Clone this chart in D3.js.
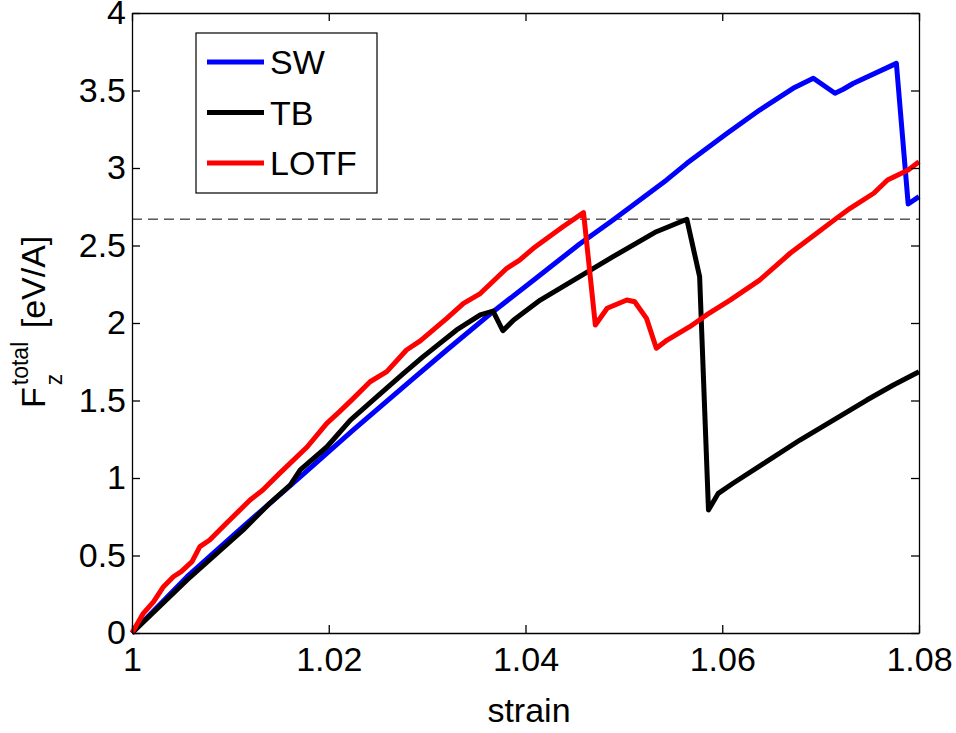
<!DOCTYPE html>
<html>
<head>
<meta charset="utf-8">
<script src="https://cdn.jsdelivr.net/npm/d3@7"></script>
<style>
  body { margin: 0; background: #fff; }
  text { font-family: "Liberation Sans", Arial, sans-serif; }
  .axis path, .axis line { stroke: #000; stroke-width: 1.3; }
  .axis text { font-size: 34px; fill: #000; }
</style>
</head>
<body>
<div class="chart"></div>
<script>
/*DATA : strain, total force*/
var seriesNames = ["SW", "TB", "LOTF"];
var seriesColors = ["#0000ff", "#000000", "#ff0000"];

var sw_strain = [1.0, 1.0056, 1.0113, 1.0171, 1.0225, 1.0284, 1.032, 1.0367, 1.0411, 1.0455, 1.0489, 1.05435, 1.0564, 1.0605, 1.0638, 1.0672, 1.06926, 1.07146, 1.0723, 1.0733, 1.0777, 1.0789, 1.08];
var sw_force  = [0, 0.363, 0.686, 1.008, 1.31, 1.632, 1.826, 2.073, 2.29, 2.51, 2.665, 2.923, 3.03, 3.224, 3.374, 3.514, 3.579, 3.482, 3.508, 3.545, 3.675, 2.768, 2.815];

var tb_strain = [1.0, 1.0056, 1.0113, 1.014, 1.0161, 1.0171, 1.0198, 1.0222, 1.0245, 1.0276, 1.0296, 1.033, 1.0354, 1.0367, 1.0377, 1.0388, 1.0415, 1.0455, 1.0489, 1.0533, 1.0564, 1.0577, 1.0586, 1.0596, 1.0611, 1.0645, 1.0679, 1.0713, 1.0747, 1.0774, 1.08];
var tb_force  = [0, 0.342, 0.665, 0.837, 0.955, 1.052, 1.2, 1.374, 1.503, 1.675, 1.783, 1.955, 2.052, 2.077, 1.95, 2.02, 2.148, 2.299, 2.428, 2.589, 2.669, 2.299, 0.794, 0.901, 0.966, 1.105, 1.245, 1.374, 1.503, 1.6, 1.686];

var lotf_strain = [1.0, 1.00115, 1.0022, 1.0032, 1.0042, 1.005, 1.0061, 1.0069, 1.0079, 1.0096, 1.012, 1.0133, 1.015, 1.0178, 1.0198, 1.0211, 1.0225, 1.0242, 1.0259, 1.0279, 1.0293, 1.032, 1.0337, 1.0354, 1.0381, 1.0394, 1.0408, 1.0438, 1.0459, 1.0471, 1.0483, 1.0503, 1.0511, 1.0523, 1.0533, 1.0544, 1.0567, 1.0584, 1.0608, 1.0638, 1.0669, 1.0696, 1.0716, 1.073, 1.0754, 1.0768, 1.0789, 1.08];
var lotf_force  = [0, 0.127, 0.202, 0.299, 0.363, 0.396, 0.46, 0.557, 0.6, 0.708, 0.858, 0.923, 1.03, 1.2, 1.353, 1.428, 1.514, 1.621, 1.686, 1.826, 1.885, 2.03, 2.127, 2.19, 2.353, 2.406, 2.482, 2.621, 2.712, 1.987, 2.095, 2.148, 2.137, 2.03, 1.837, 1.89, 1.976, 2.052, 2.148, 2.277, 2.45, 2.579, 2.675, 2.74, 2.837, 2.923, 2.987, 3.04];

var dashedLevel = 2.67;

var xTicks = [1, 1.02, 1.04, 1.06, 1.08];
var xTickLabels = ["1", "1.02", "1.04", "1.06", "1.08"];
var yTicks = [0, 0.5, 1, 1.5, 2, 2.5, 3, 3.5, 4];
var yTickLabels = ["0", "0.5", "1", "1.5", "2", "2.5", "3", "3.5", "4"];

var series = [
  { name: seriesNames[0], color: seriesColors[0], values: sw_strain.map(function(s, i){ return [s, sw_force[i]]; }) },
  { name: seriesNames[1], color: seriesColors[1], values: tb_strain.map(function(s, i){ return [s, tb_force[i]]; }) },
  { name: seriesNames[2], color: seriesColors[2], values: lotf_strain.map(function(s, i){ return [s, lotf_force[i]]; }) }
];

/*SVG + ZONE DU GRAPHE*/
var width = 956, height = 733;
var mLeft = 132, mRight = 919, mTop = 13, mBottom = 633;

var svg = d3.select(".chart")
    .append("svg")
      .attr("width", width)
      .attr("height", height);

var x = d3.scaleLinear().domain([1, 1.08]).range([mLeft, mRight]);
var y = d3.scaleLinear().domain([0, 4]).range([mBottom, mTop]);

/*LIGNE POINTILLEE*/
svg.append("line")
    .attr("x1", x(1))
    .attr("x2", x(1.08))
    .attr("y1", y(dashedLevel))
    .attr("y2", y(dashedLevel))
    .attr("stroke", "#000")
    .attr("stroke-width", 1)
    .attr("stroke-dasharray", "10,6");

/*COURBES*/
var line = d3.line()
    .x(function(d){ return x(d[0]); })
    .y(function(d){ return y(d[1]); });

svg.selectAll(".curve")
    .data(series)
    .enter()
    .append("path")
      .attr("class", "curve")
      .attr("d", function(d){ return line(d.values); })
      .attr("fill", "none")
      .attr("stroke", function(d){ return d.color; })
      .attr("stroke-width", 5)
      .attr("stroke-linejoin", "round");

/*AXES (ticks vers l'interieur, boite fermee)*/
svg.append("g")
    .attr("class", "axis")
    .attr("transform", "translate(0," + mBottom + ")")
    .call(d3.axisBottom(x).tickValues(xTicks).tickSize(-8).tickSizeOuter(0).tickPadding(14)
          .tickFormat(function(d, i){ return xTickLabels[i]; }));

svg.append("g")
    .attr("class", "axis")
    .attr("transform", "translate(0," + mTop + ")")
    .call(d3.axisTop(x).tickValues(xTicks).tickSize(-8).tickSizeOuter(0).tickFormat(""));

svg.append("g")
    .attr("class", "axis")
    .attr("transform", "translate(" + mLeft + ",0)")
    .call(d3.axisLeft(y).tickValues(yTicks).tickSize(-8).tickSizeOuter(0).tickPadding(6)
          .tickFormat(function(d, i){ return yTickLabels[i]; }));

svg.append("g")
    .attr("class", "axis")
    .attr("transform", "translate(" + mRight + ",0)")
    .call(d3.axisRight(y).tickValues(yTicks).tickSize(-8).tickSizeOuter(0).tickFormat(""));

svg.selectAll(".axis").attr("font-family", null);

/*TITRES DES AXES*/
svg.append("text")
    .attr("x", 529)
    .attr("y", 722)
    .attr("text-anchor", "middle")
    .attr("font-size", 34)
    .text("strain");

var ylab = svg.append("text")
    .attr("transform", "translate(45,408) rotate(-90)")
    .attr("font-size", 34);
ylab.append("tspan").text("F");
ylab.append("tspan").attr("font-size", 23).attr("dy", 17).attr("dx", 2).text("z");
ylab.append("tspan").attr("font-size", 23).attr("dy", -34).attr("dx", -11.5).text("total");
ylab.append("tspan").attr("dy", 17).attr("dx", 4).text(" [eV/A]");

/*LEGENDE*/
var legend = svg.append("g");

legend.append("rect")
    .attr("x", 196)
    .attr("y", 33)
    .attr("width", 181)
    .attr("height", 160)
    .attr("fill", "#fff")
    .attr("stroke", "#000")
    .attr("stroke-width", 1.2);

var entries = legend.selectAll(".entry")
    .data(series)
    .enter()
    .append("g")
      .attr("class", "entry")
      .attr("transform", function(d, i){ return "translate(0," + (62 + i * 50.5) + ")"; });

entries.append("line")
    .attr("x1", 207)
    .attr("x2", 264)
    .attr("stroke", function(d){ return d.color; })
    .attr("stroke-width", 5);

entries.append("text")
    .attr("x", 270)
    .attr("y", 12)
    .attr("font-size", 34)
    .text(function(d){ return d.name; });
</script>
</body>
</html>
